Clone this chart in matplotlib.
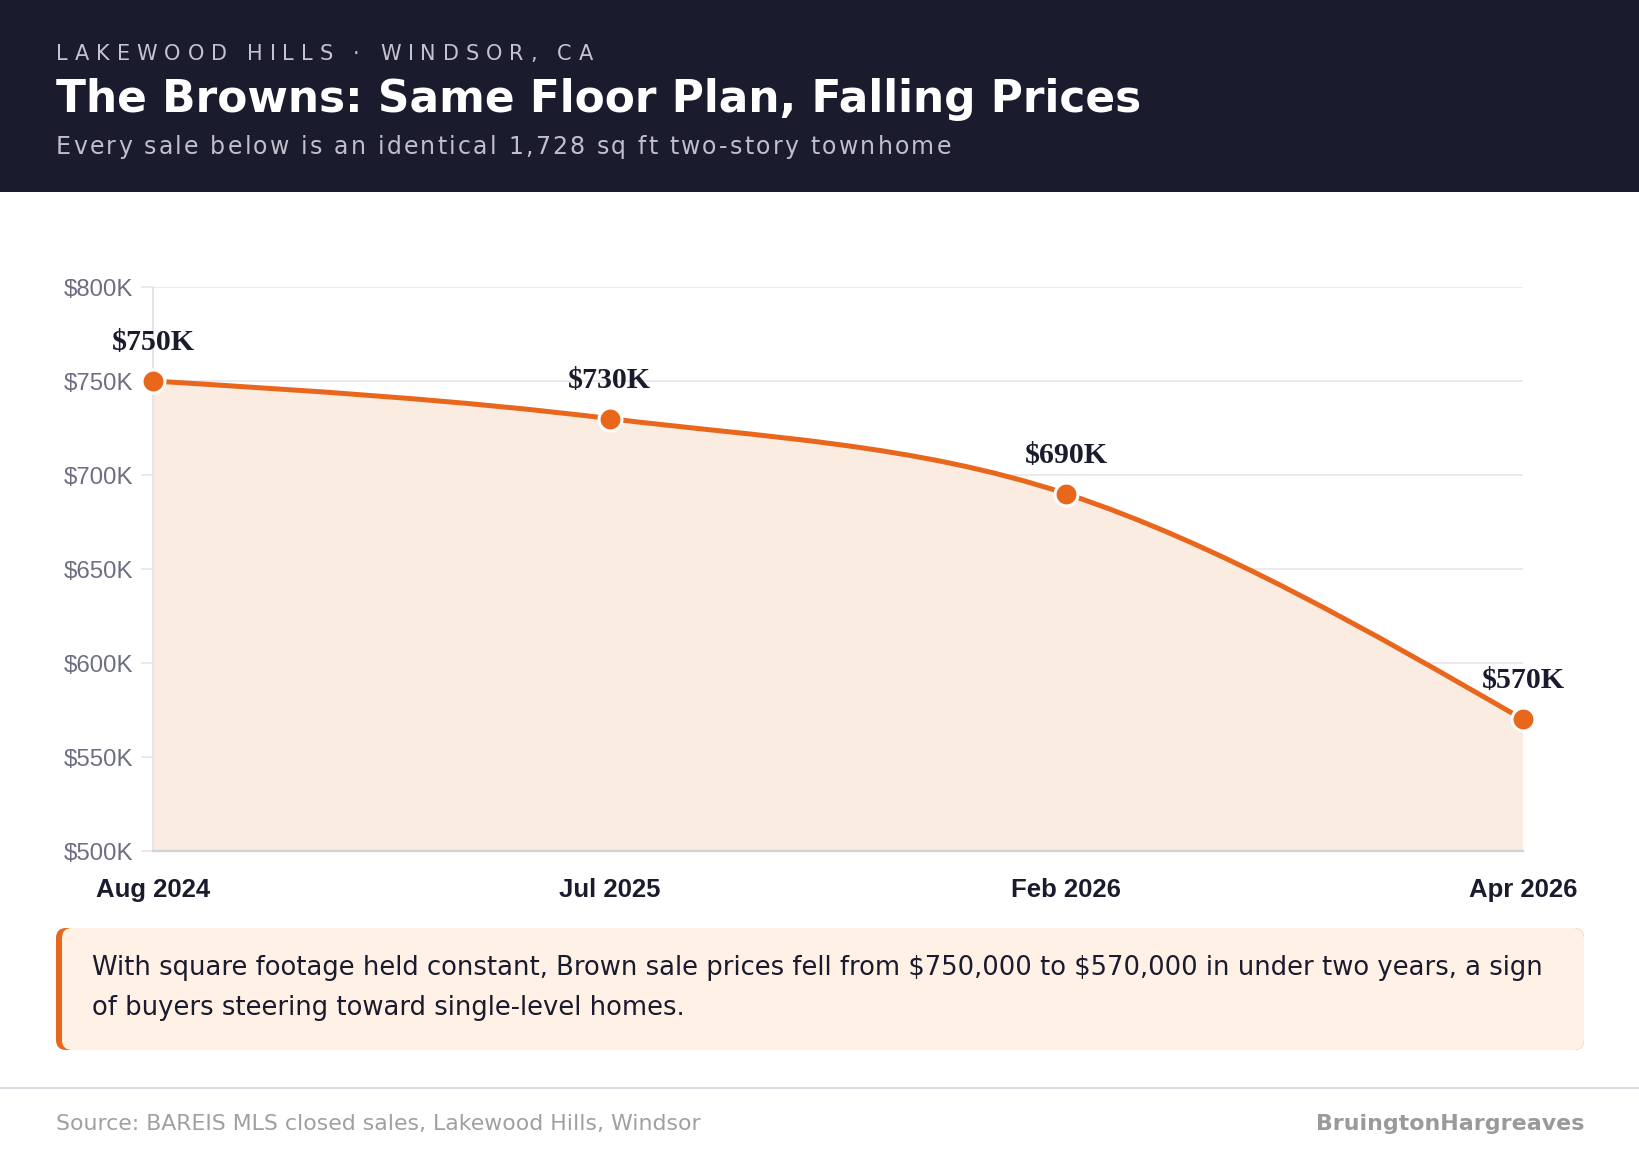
import numpy as np
import matplotlib
matplotlib.use("Agg")
import matplotlib.pyplot as plt
from matplotlib.path import Path
from matplotlib.patches import PathPatch, Rectangle, FancyBboxPatch
from matplotlib.transforms import IdentityTransform

# data
sale_dates = ["Aug 2024", "Jul 2025", "Feb 2026", "Apr 2026"]
sale_prices = [750, 730, 690, 570]  # $K
point_labels = ["$750K", "$730K", "$690K", "$570K"]
y_ticks = [500, 550, 600, 650, 700, 750, 800]
y_tick_labels = ["$500K", "$550K", "$600K", "$650K", "$700K", "$750K", "$800K"]

W, H = 1640, 1158
DARK = "#1b1b2e"
ORANGE = "#e8671c"
FILL = "#fbece1"

fig = plt.figure(figsize=(W / 100, H / 100), dpi=100)
fig.patch.set_facecolor("white")


def fx(px):
    return px / W


def fy(py):
    return 1 - py / H


def spaced_text(x_px, y_px, s, target_w, **kw):
    # draw text char by char so that it spans target_w pixels
    r = fig.canvas.get_renderer()
    probe = fig.text(0, 0, "", **kw)

    def width(txt):
        probe.set_text(txt + "|")
        w1 = probe.get_window_extent(r).width
        probe.set_text("|")
        return w1 - probe.get_window_extent(r).width

    natural = width(s)
    gap = max(0.0, (target_w - natural) / (len(s) - 1))
    for i, ch in enumerate(s):
        if ch == " ":
            continue
        fig.text(fx(x_px + width(s[:i]) + i * gap), fy(y_px), ch, va="baseline", **kw)
    probe.remove()


# header band
fig.add_artist(Rectangle((0, fy(192)), 1, 192 / H, transform=fig.transFigure,
                         facecolor=DARK, edgecolor="none", zorder=0))
spaced_text(56, 60, "LAKEWOOD HILLS · WINDSOR, CA", 537,
            color="#c4c4d0", fontsize=15, family="DejaVu Sans")
fig.text(fx(56), fy(112), "The Browns: Same Floor Plan, Falling Prices", color="white",
         fontsize=31.6, fontweight="bold", family="DejaVu Sans", va="baseline")
spaced_text(56, 154, "Every sale below is an identical 1,728 sq ft two-story townhome", 895,
            color="#bfbfcb", fontsize=17, family="DejaVu Sans")

# chart
ax = fig.add_axes([fx(153), fy(851), (1523 - 153) / W, (851 - 287) / H])
x = np.arange(len(sale_prices))
y = np.array(sale_prices, dtype=float)

# monotone cubic (d3 curveMonotoneX style) tangents
s = np.diff(y) / np.diff(x)
t = np.zeros_like(y)
for i in range(1, len(y) - 1):
    h0, h1 = x[i] - x[i - 1], x[i + 1] - x[i]
    p = (s[i - 1] * h1 + s[i] * h0) / (h0 + h1)
    t[i] = (np.sign(s[i - 1]) + np.sign(s[i])) * min(abs(s[i - 1]), abs(s[i]), 0.5 * abs(p))
t[0] = (3 * s[0] - t[1]) / 2
t[-1] = (3 * s[-1] - t[-2]) / 2

verts = [(x[0], y[0])]
codes = [Path.MOVETO]
for i in range(len(y) - 1):
    dx = (x[i + 1] - x[i]) / 3
    verts += [(x[i] + dx, y[i] + dx * t[i]), (x[i + 1] - dx, y[i + 1] - dx * t[i + 1]), (x[i + 1], y[i + 1])]
    codes += [Path.CURVE4] * 3
curve = Path(verts, codes)
area = Path(verts + [(x[-1], y_ticks[0]), (x[0], y_ticks[0]), (x[0], y[0])],
            codes + [Path.LINETO, Path.LINETO, Path.CLOSEPOLY])
ax.add_patch(PathPatch(area, facecolor=FILL, edgecolor="none", zorder=1))
ax.add_patch(PathPatch(curve, facecolor="none", edgecolor=ORANGE, lw=3.6, zorder=3,
                       capstyle="round", joinstyle="round"))
ax.plot(x, y, "o", ms=16.5, mfc=ORANGE, mec="white", mew=2.2, zorder=4, clip_on=False)

for xi, yi, lab in zip(x, y, point_labels):
    ax.annotate(lab, (xi, yi), xytext=(0, 22.3), textcoords="offset points",
                ha="center", va="baseline", fontsize=21.5, fontweight="bold",
                family="Liberation Serif", color=DARK, zorder=5)

ax.set_xlim(0, len(x) - 1)
ax.set_ylim(y_ticks[0], y_ticks[-1])
ax.set_yticks(y_ticks)
ax.set_yticklabels(y_tick_labels, family="Liberation Sans", fontsize=17.3, color="#6e6e82")
ax.set_xticks(x)
ax.set_xticklabels(sale_dates, family="Liberation Sans", fontsize=18.5, fontweight="bold", color=DARK)
ax.tick_params(axis="y", length=9, width=1.2, color="#e6e6ec", pad=5)
ax.tick_params(axis="x", length=0, pad=19.3)
ax.grid(axis="y", color="#e6e6ec", lw=1.2, zorder=0)
ax.set_axisbelow(True)
ax.set_facecolor("none")
for side in ["top", "right"]:
    ax.spines[side].set_visible(False)
ax.spines["left"].set_color("#e4e0e6")
ax.spines["left"].set_linewidth(1.2)
ax.spines["bottom"].set_color("#d6d0d7")
ax.spines["bottom"].set_linewidth(1.6)

# callout box
ident = IdentityTransform()
bx0, bx1, by0, by1 = 56, 1584, 928, 1050
fig.add_artist(FancyBboxPatch((bx0, H - by1), bx1 - bx0, by1 - by0,
                              boxstyle="round,pad=0,rounding_size=10", transform=ident,
                              facecolor=ORANGE, edgecolor="none", zorder=1))
fig.add_artist(FancyBboxPatch((bx0 + 6, H - by1), bx1 - bx0 - 6, by1 - by0,
                              boxstyle="round,pad=0,rounding_size=10", transform=ident,
                              facecolor="#fff1e6", edgecolor="none", zorder=2))
fig.text(fx(92), fy(975), "With square footage held constant, Brown sale prices fell from $750,000 to $570,000 in under two years, a sign",
         fontsize=18.6, family="DejaVu Sans", color=DARK, va="baseline", parse_math=False, zorder=3)
fig.text(fx(92), fy(1015), "of buyers steering toward single-level homes.",
         fontsize=18.6, family="DejaVu Sans", color=DARK, va="baseline", parse_math=False, zorder=3)

# footer
fig.add_artist(Rectangle((0, fy(1089)), 1, 2 / H, transform=fig.transFigure,
                         facecolor="#dcdce4", edgecolor="none"))
fig.text(fx(56), fy(1130), "Source: BAREIS MLS closed sales, Lakewood Hills, Windsor",
         fontsize=15.8, family="DejaVu Sans", color="#a0a0a0", va="baseline")
fig.text(fx(1584), fy(1130), "BruingtonHargreaves", fontsize=15.9, fontweight="bold",
         family="DejaVu Sans", color="#9a9a9a", va="baseline", ha="right")

fig.savefig("out.png", dpi=100)
